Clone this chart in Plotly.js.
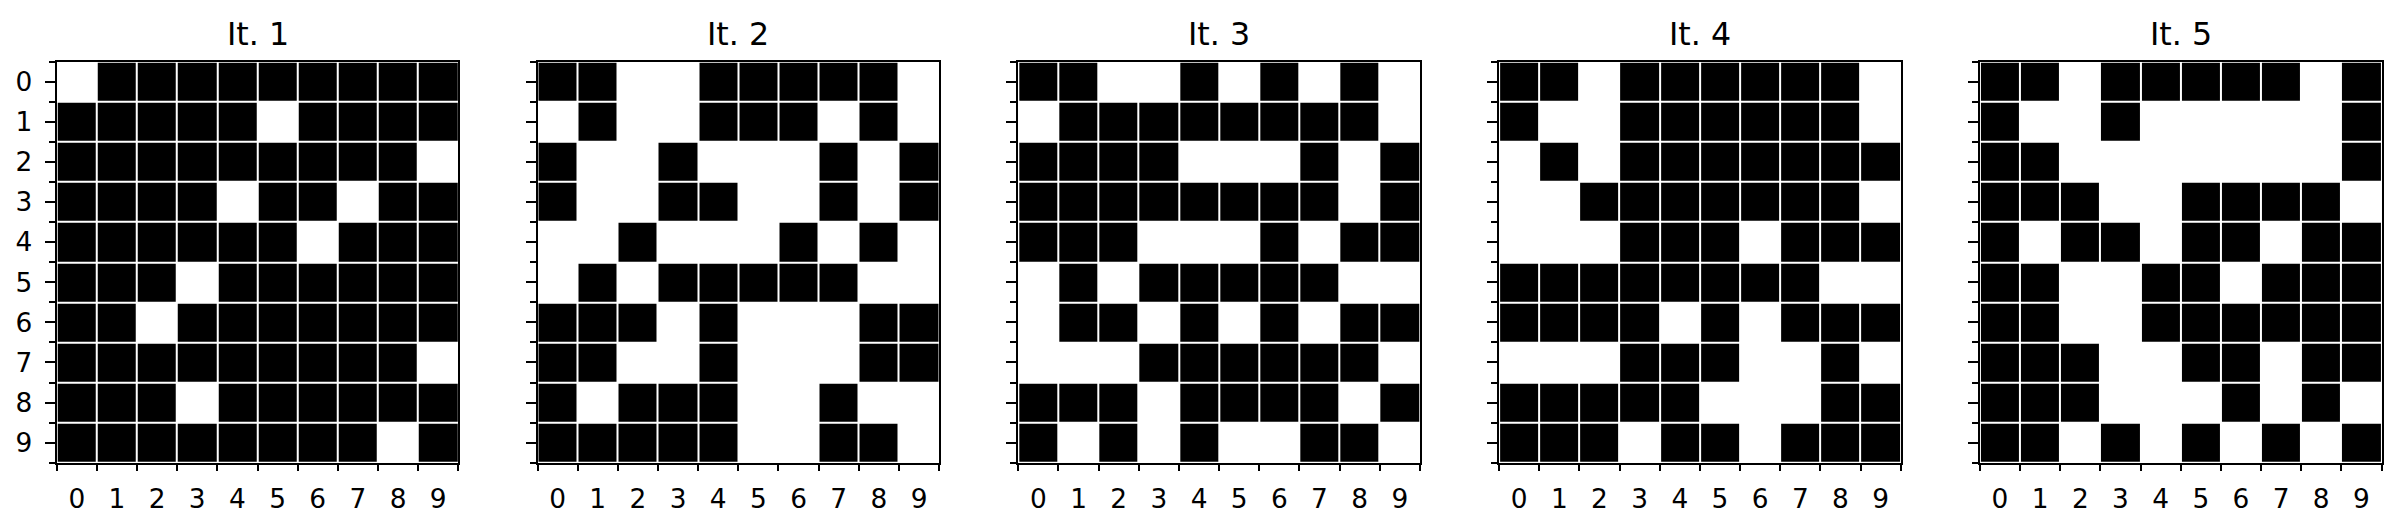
<!DOCTYPE html>
<html>
<head>
<meta charset="utf-8">
<script src="https://cdn.plot.ly/plotly-3.0.1.min.js"></script>
<style>html,body{margin:0;padding:0;background:#fff;}#chart{width:2402px;height:530px;}</style>
</head>
<body>
<div id="chart"></div>
<script>
// 1 = black cell, 0 = white cell (rows 0..9 top to bottom)
const it1 = [
  [0,1,1,1,1,1,1,1,1,1],
  [1,1,1,1,1,0,1,1,1,1],
  [1,1,1,1,1,1,1,1,1,0],
  [1,1,1,1,0,1,1,0,1,1],
  [1,1,1,1,1,1,0,1,1,1],
  [1,1,1,0,1,1,1,1,1,1],
  [1,1,0,1,1,1,1,1,1,1],
  [1,1,1,1,1,1,1,1,1,0],
  [1,1,1,0,1,1,1,1,1,1],
  [1,1,1,1,1,1,1,1,0,1]
];
const it2 = [
  [1,1,0,0,1,1,1,1,1,0],
  [0,1,0,0,1,1,1,0,1,0],
  [1,0,0,1,0,0,0,1,0,1],
  [1,0,0,1,1,0,0,1,0,1],
  [0,0,1,0,0,0,1,0,1,0],
  [0,1,0,1,1,1,1,1,0,0],
  [1,1,1,0,1,0,0,0,1,1],
  [1,1,0,0,1,0,0,0,1,1],
  [1,0,1,1,1,0,0,1,0,0],
  [1,1,1,1,1,0,0,1,1,0]
];
const it3 = [
  [1,1,0,0,1,0,1,0,1,0],
  [0,1,1,1,1,1,1,1,1,0],
  [1,1,1,1,0,0,0,1,0,1],
  [1,1,1,1,1,1,1,1,0,1],
  [1,1,1,0,0,0,1,0,1,1],
  [0,1,0,1,1,1,1,1,0,0],
  [0,1,1,0,1,0,1,0,1,1],
  [0,0,0,1,1,1,1,1,1,0],
  [1,1,1,0,1,1,1,1,0,1],
  [1,0,1,0,1,0,0,1,1,0]
];
const it4 = [
  [1,1,0,1,1,1,1,1,1,0],
  [1,0,0,1,1,1,1,1,1,0],
  [0,1,0,1,1,1,1,1,1,1],
  [0,0,1,1,1,1,1,1,1,0],
  [0,0,0,1,1,1,0,1,1,1],
  [1,1,1,1,1,1,1,1,0,0],
  [1,1,1,1,0,1,0,1,1,1],
  [0,0,0,1,1,1,0,0,1,0],
  [1,1,1,1,1,0,0,0,1,1],
  [1,1,1,0,1,1,0,1,1,1]
];
const it5 = [
  [1,1,0,1,1,1,1,1,0,1],
  [1,0,0,1,0,0,0,0,0,1],
  [1,1,0,0,0,0,0,0,0,1],
  [1,1,1,0,0,1,1,1,1,0],
  [1,0,1,1,0,1,1,0,1,1],
  [1,1,0,0,1,1,0,1,1,1],
  [1,1,0,0,1,1,1,1,1,1],
  [1,1,1,0,0,1,1,0,1,1],
  [1,1,1,0,0,0,1,0,1,0],
  [1,1,0,1,0,1,0,1,0,1]
];
const grids = [it1, it2, it3, it4, it5];
const titles = ["It. 1", "It. 2", "It. 3", "It. 4", "It. 5"];
const tickVals = [0,1,2,3,4,5,6,7,8,9];
const tickText = ["0","1","2","3","4","5","6","7","8","9"];

const W = 2402, H = 530;
const panelLeft0 = 56.7, panelStep = 480.8, panelW = 401.6;
const panelTop = 61.7, panelBottom = 462.7;
const FONT = "DejaVu Sans, sans-serif";

const data = [];
const layout = {
  width: W, height: H,
  margin: {l: 0, r: 0, t: 0, b: 0, pad: 0},
  paper_bgcolor: "#ffffff",
  plot_bgcolor: "#ffffff",
  showlegend: false,
  annotations: []
};

grids.forEach((g, i) => {
  const n = i === 0 ? "" : String(i + 1);
  data.push({
    type: "heatmap",
    z: g,
    x: tickVals,
    y: tickVals,
    xaxis: "x" + n,
    yaxis: "y" + n,
    colorscale: [[0, "#ffffff"], [1, "#000000"]],
    zmin: 0, zmax: 1,
    showscale: false,
    xgap: 2, ygap: 2,
    hoverinfo: "skip"
  });
  const x0 = (panelLeft0 + panelStep * i) / W;
  const x1 = (panelLeft0 + panelStep * i + panelW) / W;
  const y0 = 1 - panelBottom / H;
  const y1 = 1 - panelTop / H;
  layout["xaxis" + n] = {
    domain: [x0, x1],
    anchor: "y" + n,
    range: [-0.5, 9.5],
    tickmode: "array", tickvals: tickVals, ticktext: tickText,
    ticks: "outside", ticklen: 10, tickwidth: 2, tickcolor: "rgba(0,0,0,0)",
    ticklabelstandoff: 2,
    minor: {tick0: -0.5, dtick: 1, ticks: "outside", ticklen: 6, tickwidth: 2, tickcolor: "#000", showgrid: false},
    showgrid: false, zeroline: false,
    showline: true, mirror: true, linecolor: "#000", linewidth: 2,
    tickfont: {family: FONT, size: 26.4, color: "#000"},
    fixedrange: true
  };
  layout["yaxis" + n] = {
    domain: [y0, y1],
    anchor: "x" + n,
    range: [9.5, -0.5],
    tickmode: "array", tickvals: tickVals, ticktext: tickText,
    showticklabels: i === 0,
    ticks: "outside", ticklen: 10, tickwidth: 2, tickcolor: "#000",
    ticklabelstandoff: 7,
    minor: {tick0: -0.5, dtick: 1, ticks: "outside", ticklen: 6, tickwidth: 2, tickcolor: "#000", showgrid: false},
    showgrid: false, zeroline: false,
    showline: true, mirror: true, linecolor: "#000", linewidth: 2,
    tickfont: {family: FONT, size: 26.4, color: "#000"},
    fixedrange: true
  };
  layout.annotations.push({
    text: titles[i],
    xref: "paper", yref: "paper",
    x: (x0 + x1) / 2, y: 1 - 33.5 / H,
    xanchor: "center", yanchor: "middle",
    showarrow: false,
    font: {family: FONT, size: 31.7, color: "#000"}
  });
});

Plotly.newPlot("chart", data, layout, {displayModeBar: false, staticPlot: true});
</script>
</body>
</html>
